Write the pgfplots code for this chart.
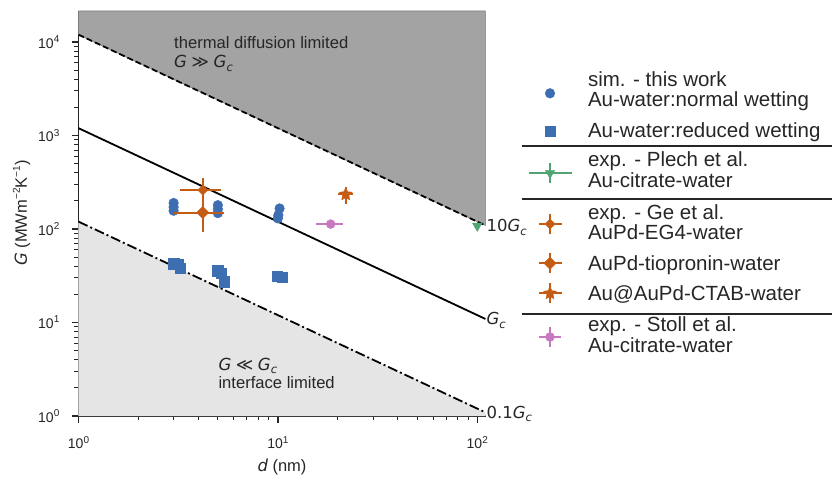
\documentclass[border=0pt]{standalone}
\usepackage{pgfplots}
\pgfplotsset{compat=1.18}
\usepackage{fontspec}
\setmainfont{Liberation Sans}
\newfontfamily\dejavu{DejaVu Sans}

\definecolor{txt}{HTML}{262626}
\definecolor{bluec}{RGB}{62,110,178}
\definecolor{orangec}{RGB}{196,92,20}
\definecolor{greenc}{RGB}{80,165,115}
\definecolor{pinkc}{RGB}{200,120,190}
\definecolor{darkreg}{RGB}{163,163,163}
\definecolor{lightreg}{RGB}{229,229,229}

% filled five-pointed star
\pgfdeclareplotmark{fstar}{%
  \pgfpathmoveto{\pgfpointpolar{90}{\pgfplotmarksize}}%
  \pgfpathlineto{\pgfpointpolar{126}{0.48\pgfplotmarksize}}%
  \pgfpathlineto{\pgfpointpolar{162}{\pgfplotmarksize}}%
  \pgfpathlineto{\pgfpointpolar{198}{0.48\pgfplotmarksize}}%
  \pgfpathlineto{\pgfpointpolar{234}{\pgfplotmarksize}}%
  \pgfpathlineto{\pgfpointpolar{270}{0.48\pgfplotmarksize}}%
  \pgfpathlineto{\pgfpointpolar{306}{\pgfplotmarksize}}%
  \pgfpathlineto{\pgfpointpolar{342}{0.48\pgfplotmarksize}}%
  \pgfpathlineto{\pgfpointpolar{18}{\pgfplotmarksize}}%
  \pgfpathlineto{\pgfpointpolar{54}{0.48\pgfplotmarksize}}%
  \pgfpathclose\pgfusepathqfillstroke}

\newcommand{\tsup}[1]{\raisebox{0.42em}{\fontsize{10}{10}\selectfont #1}}
\newcommand{\Gc}{{\itshape G}\raisebox{-3.5pt}[0pt][0pt]{\fontsize{11.5}{12}\selectfont\itshape c}}
% two-line legend text, second line 20.7pt lower
\newcommand{\legtwo}[2]{\rlap{\smash{#1}}\raisebox{-20.7pt}[0pt][0pt]{#2}}

\pgfplotsset{
  legmark/.style={legend image code/.code={%
    \path[draw=none, fill=none] (0pt,0pt) -- (44pt,0pt);
    \draw[##1] plot coordinates {(22pt,0pt)};}},
  legerr/.style n args={3}{legend image code/.code={%
    \path[draw=none, fill=none] (0pt,0pt) -- (44pt,0pt);
    \draw[draw=#1, fill=none, line width=2pt] (#2,0pt) -- (#3,0pt) (22pt,-10pt) -- (22pt,10pt);
    \draw[##1] plot coordinates {(22pt,0pt)};}},
}

\begin{document}
\begin{tikzpicture}[x=1pt,y=1pt]
\useasboundingbox (-78.5,-61) rectangle (753.5,416);
\begin{axis}[
    at={(0,0)}, anchor=south west,
    scale only axis, width=407pt, height=405pt,
    xmode=log, ymode=log, log basis x=10, log basis y=10,
    xmin=1, xmax=110, ymin=1, ymax=21500,
    axis x line*=bottom, axis y line*=left,
    axis line style={txt, line width=1.5pt},
    tick align=outside,
    major tick length=7pt, minor tick length=4.5pt,
    major tick style={txt, line width=1.3pt},
    minor tick style={txt, line width=1pt},
    xticklabel={10\tsup{\pgfmathparse{int(round(\tick))}\pgfmathresult}},
    yticklabel={10\tsup{\pgfmathparse{int(round(\tick))}\pgfmathresult}},
    xticklabel style={font=\fontsize{14}{16}\selectfont, text=txt, anchor=north, inner sep=0pt, yshift=-13pt},
    yticklabel style={font=\fontsize{14}{16}\selectfont, text=txt, anchor=east, inner sep=0pt, xshift=-12pt},
    xlabel={{\dejavu\itshape d} (nm)},
    ylabel={{\dejavu\itshape G} (MWm\tsup{−2}K\tsup{−1})},
    every axis x label/.style={at={(axis description cs:0.5,-0.126)}, anchor=center,
      font=\fontsize{16.5}{18}\selectfont, text=txt},
    every axis y label/.style={at={(axis description cs:-0.1396,0.501)}, anchor=center,
      rotate=90, font=\fontsize{16.5}{18}\selectfont, text=txt},
    clip mode=individual,
    legend cell align=left,
    legend style={at={(axis description cs:1.10319,0.84617)}, anchor=north west,
      draw=none, fill=none, inner sep=0pt, outer sep=0pt,
      row sep=0pt, column sep=15.5pt,
      font=\fontsize{20.5}{24}\selectfont, text=txt,
      nodes={inner sep=0pt, outer sep=0pt}},
  ]
  % regions
  \addplot[forget plot, fill=darkreg, draw=gray, line width=0.6pt]
    coordinates {(1,12000) (110,109.09) (110,21500) (1,21500)} -- cycle;
  \addplot[forget plot, fill=lightreg, draw=none]
    coordinates {(1,120) (110,1.0909) (110,1) (1,1)} -- cycle;
  % limits
  \addplot[forget plot, black, line width=1.8pt, dash pattern=on 6pt off 3pt]
    coordinates {(1,12000) (110,109.09)};
  \addplot[forget plot, black, line width=1.8pt]
    coordinates {(1,1200) (110,10.909)};
  \addplot[forget plot, black, line width=1.8pt, dash pattern=on 10pt off 3pt on 2pt off 3pt]
    coordinates {(1,120) (110,1.0909)};

  % sim. normal wetting
  \addplot[legmark, only marks, mark=*, mark size=4.8pt,
    mark options={draw=bluec, fill=bluec, line width=0.5pt}]
    coordinates {(3.0,190) (3.0,172) (3.0,157) (5.0,180) (5.0,163) (5.0,148)
                 (10.2,166) (10.05,141) (10.0,130)};
  \addlegendentry[text height=12.7pt, text depth=27.3pt]{\legtwo{sim. - this work}{Au-water:normal wetting}}
  % sim. reduced wetting
  \addplot[legmark, only marks, mark=square*, mark size=5.2pt,
    mark options={draw=bluec, fill=bluec, line width=0.5pt}]
    coordinates {(3.0,42.5) (3.15,42) (3.25,38) (5.0,35.8) (5.2,33.6) (5.4,27.3)
                 (9.9,31.4) (10.5,30.4)};
  \addlegendentry[text height=24pt, text depth=11.4pt]{\smash{Au-water:reduced wetting}}
  % Plech
  \addplot[legerr={greenc}{0.5pt}{43.5pt}, only marks, mark=triangle*, mark size=5.5pt,
    mark options={draw=greenc, fill=greenc, rotate=180}]
    coordinates {(100,108)};
  \addlegendentry[text height=18pt, text depth=30.6pt]{\legtwo{exp. - Plech et al.}{Au-citrate-water}}
  % Ge EG4
  \addplot[legerr={orangec}{10.5pt}{33.5pt}, only marks, mark=square*, mark size=3.6pt,
    mark options={draw=orangec, fill=orangec, rotate=45},
    error bars/.cd, x dir=both, x explicit, y dir=both, y explicit, error mark=none,
    error bar style={orangec, line width=2pt}]
    coordinates {(4.2,261) +- (0.97,88)};
  \addlegendentry[text height=21.7pt, text depth=31.7pt]{\legtwo{exp. - Ge et al.}{AuPd-EG4-water}}
  % Ge tiopronin
  \addplot[legerr={orangec}{10.5pt}{33.5pt}, only marks, mark=square*, mark size=4.3pt,
    mark options={draw=orangec, fill=orangec, rotate=45},
    error bars/.cd, x dir=both, x explicit, y dir=both, y explicit, error mark=none,
    error bar style={orangec, line width=2pt}]
    coordinates {(4.2,150) +- (1.18,56)};
  \addlegendentry[text height=19.3pt, text depth=5.9pt]{\smash{AuPd-tiopronin-water}}
  % Ge CTAB
  \addplot[legerr={orangec}{10.5pt}{33.5pt}, only marks, mark=fstar, mark size=6.8pt,
    mark options={draw=orangec, fill=orangec},
    error bars/.cd, x dir=both, x explicit, y dir=both, y explicit, error mark=none,
    error bar style={orangec, line width=2pt}]
    coordinates {(21.9,235) +- (1.8,50)};
  \addlegendentry[text height=24.1pt, text depth=10.7pt]{\smash{Au@AuPd-CTAB-water}}
  % Stoll
  \addplot[legerr={pinkc}{11pt}{33pt}, only marks, mark=*, mark size=4.5pt,
    mark options={draw=pinkc, fill=pinkc},
    error bars/.cd, x dir=both, x explicit, error mark=none,
    error bar style={pinkc, line width=2pt}]
    coordinates {(18.4,113) +- (2.9,0)};
  \addlegendentry[text height=21pt, text depth=31.6pt]{\legtwo{exp. - Stoll et al.}{Au-citrate-water}}

  \node[anchor=west, inner sep=1pt, text=txt, font=\fontsize{16.5}{18}\selectfont\dejavu]
    at (axis cs:110,109.09) {10\Gc};
  \node[anchor=west, inner sep=1pt, text=txt, font=\fontsize{16.5}{18}\selectfont\dejavu]
    at (axis cs:110,10.909) {\Gc};
  \node[anchor=west, inner sep=1pt, text=txt, font=\fontsize{16.5}{18}\selectfont\dejavu]
    at (axis cs:110,1.0909) {0.1\Gc};
\end{axis}

% region annotations
\begin{scope}[font=\fontsize{16.6}{19}\selectfont, text=txt]
  \node[anchor=base west, inner sep=0pt] at (95.5,367.5) {thermal diffusion limited};
  \node[anchor=base west, inner sep=0pt] at (95.5,348.3) {{\dejavu\itshape G} {\dejavu ≫} {\dejavu\Gc}};
  \node[anchor=base west, inner sep=0pt] at (139.8,45.8) {{\dejavu\itshape G} {\dejavu ≪} {\dejavu\Gc}};
  \node[anchor=base west, inner sep=0pt] at (139.8,27.7) {interface limited};
\end{scope}

% legend separators
\draw[txt, line width=1.8pt] (443.2,270) -- (753.5,270);
\draw[txt, line width=1.8pt] (443.2,216.7) -- (753.5,216.7);
\draw[txt, line width=1.8pt] (443.2,102) -- (753.5,102);
\end{tikzpicture}
\end{document}
